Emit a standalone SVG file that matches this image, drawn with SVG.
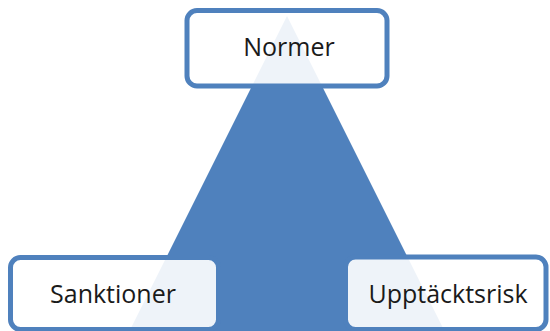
<svg xmlns="http://www.w3.org/2000/svg" width="550" height="331" viewBox="0 0 550 331">
  <style>
    .box { fill: #ffffff; fill-opacity: 0.9; stroke: #4f81bd; stroke-width: 5; }
    .lbl { font-family: "Open Sans", "Noto Sans", sans-serif; font-size: 25px; fill: #1a1a1a; text-anchor: middle; }
  </style>
  <rect width="550" height="331" fill="#ffffff"/>
  <g id="connectors">
    <polygon id="triangle" points="287,16 446,334 128,334" fill="#4f81bd"/>
  </g>
  <g id="node-normer">
    <rect class="box" x="187" y="10.5" width="200" height="75.5" rx="10" ry="10"/>
    <text class="lbl" x="289" y="56">Normer</text>
  </g>
  <g id="node-sanktioner">
    <rect class="box" x="10.5" y="257.5" width="208" height="72" rx="10" ry="10"/>
    <text class="lbl" x="113" y="303">Sanktioner</text>
  </g>
  <g id="node-upptacktsrisk">
    <rect class="box" x="345.5" y="257" width="200.5" height="72.5" rx="10" ry="10"/>
    <text class="lbl" x="448" y="303">Upptäcktsrisk</text>
  </g>
</svg>
